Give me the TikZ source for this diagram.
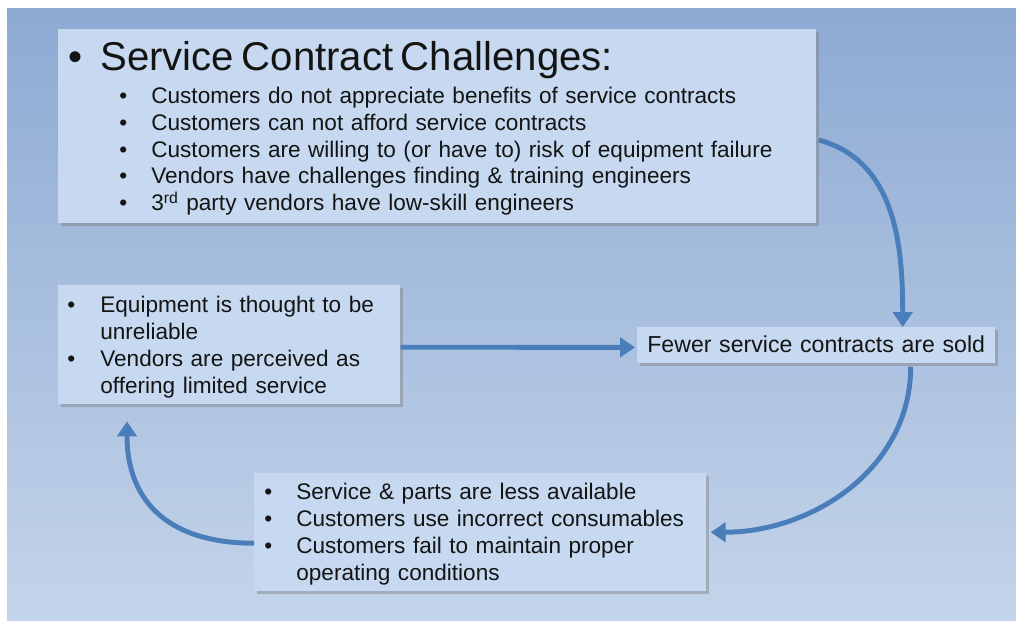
\documentclass[tikz,border=0pt]{standalone}
\usepackage{fontspec}
\usepackage{xcolor}
\setmainfont{Liberation Sans}
\usetikzlibrary{positioning,calc,shadows,arrows.meta}

\definecolor{bgtop}{HTML}{8DAAD3}
\definecolor{bgbot}{HTML}{C4D4EA}
\definecolor{notefill}{HTML}{C6D9F0}
\definecolor{flowblue}{HTML}{4A7EBB}
\definecolor{ink}{HTML}{141414}

\newlength{\px}
\setlength{\px}{0.02cm}
\newcommand{\bodyfont}{\fontsize{12.85}{15.31}\selectfont}
\newcommand{\headfont}{\fontsize{22.85}{26}\selectfont}
% bullet at #1, text at #2 (in px from the left edge of the box)
\newcommand{\bul}[2]{\hspace*{#1\px}\makebox[\dimexpr#2\px-#1\px\relax][l]{\textbullet}}
\newcommand{\ind}[1]{\hspace*{#1\px}}
% first baseline and bottom gap
\newcommand{\topgap}[1]{\rule{0pt}{#1\px}}
\newcommand{\botgap}[1]{\rule[-#1\px]{0pt}{#1\px}}

\tikzstyle{note}=[fill=notefill,
text=ink,
anchor=north west,
inner sep=0pt,
align=left,
font=\bodyfont,
drop shadow={shadow xshift=1.6pt,shadow yshift=-1.6pt,opacity=0.45},
]
\tikzstyle{flow}=[draw=flowblue,
line width=2.8pt,
-{Triangle[width=11pt,length=8.5pt]},
]

\begin{document}
\begin{tikzpicture}[x=0.02cm, y=-0.02cm]
        \useasboundingbox (0,0) rectangle (1016,620);
        \fill[white] (0,0) rectangle (1016,620);
        \shade[top color=bgtop, bottom color=bgbot] (7,8) rectangle (1016,620);

        \node[note, text width=758\px] (challenges) at (58,29) {%
          {\headfont\topgap{41}\bul{10}{42}Service Contract Challenges:}\\[6\px]
          \bul{61}{93}Customers do not appreciate benefits of service contracts\\
          \bul{61}{93}Customers can not afford service contracts\\
          \bul{61}{93}Customers are willing to (or have to) risk of equipment failure\\
          \bul{61}{93}Vendors have challenges finding \& training engineers\\
          \bul{61}{93}3\textsuperscript{rd} party vendors have low-skill engineers\botgap{12}};
        \node[note, text width=342\px] (perceived) at (58,285) {%
          \topgap{27}\bul{9}{42}Equipment is thought to be\\
          \ind{42}unreliable\\
          \bul{9}{42}Vendors are perceived as\\
          \ind{42}offering limited service\botgap{11}};
        \node[note, text width=358\px, font=\fontsize{13.15}{15.31}\selectfont] (fewer) at (637,327) {%
          \topgap{25}\ind{10}Fewer service contracts are sold\botgap{11}};
        \node[note, text width=452\px] (consequences) at (254,473) {%
          \topgap{26}\bul{10}{42}Service \& parts are less available\\
          \bul{10}{42}Customers use incorrect consumables\\
          \bul{10}{42}Customers fail to maintain proper\\
          \ind{42}operating conditions\botgap{11}};

        \draw[flow] ($(challenges.north east)+(2,111)$) to[out=-15,in=90] ($(fewer.north east)+(-93,0)$);
        \draw[flow] ($(fewer.south east)+(-85,3)$) to[out=-90,in=0] ($(consequences.east)+(4,0)$);
        \draw[flow] ($(perceived.east)+(0,2.5)$) -- ($(fewer.west)+(-2,2)$);
        \draw[flow] ($(consequences.west)+(0,11)$) to[out=180,in=-90,looseness=1.2] ($(perceived.south west)+(69,17)$);
    \end{tikzpicture}
\end{document}
